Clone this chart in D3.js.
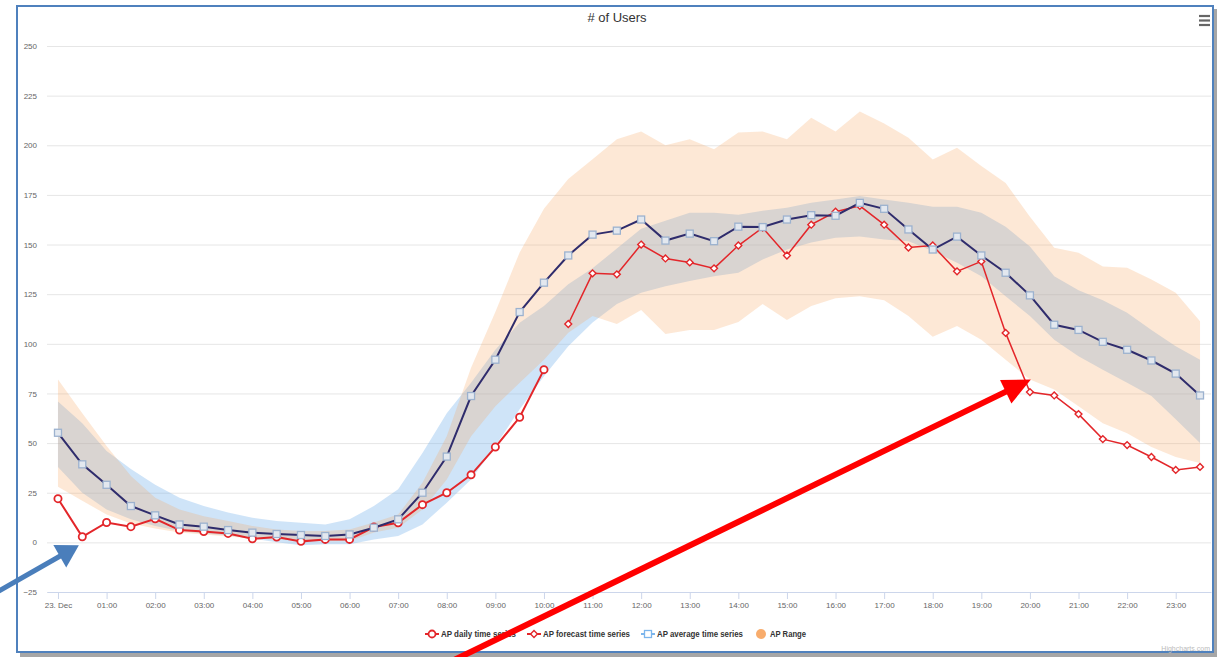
<!DOCTYPE html>
<html>
<head>
<meta charset="utf-8">
<title># of Users</title>
<script src="https://cdn.jsdelivr.net/npm/d3@7/dist/d3.min.js"></script>
<style>
    body { margin: 0; background: #fff; }
    #chart-area { width: 1217px; height: 657px; }
    svg text { font-family: "Liberation Sans", Arial, sans-serif; }
    .axis text { font-size: 8px; fill: #666; }
    .axis .domain { stroke: #ccd6eb; }
    .x-axis line { stroke: #ccd6eb; }
    .y-axis line { stroke: #e6e6e6; }
    .legend-item text { font-size: 9px; font-weight: bold; fill: #333; }
</style>
</head>
<body>
<div id="chart-area"></div>
<script>

// half-hour time stamps (hours after 23 Dec 00:00)
const hours = [0, 0.5, 1, 1.5, 2, 2.5, 3, 3.5, 4, 4.5, 5, 5.5, 6, 6.5, 7, 7.5, 8, 8.5, 9, 9.5,
    10, 10.5, 11, 11.5, 12, 12.5, 13, 13.5, 14, 14.5, 15, 15.5, 16, 16.5, 17, 17.5, 18, 18.5, 19, 19.5,
    20, 20.5, 21, 21.5, 22, 22.5, 23, 23.5];

// AP daily time series (00:00 - 10:00)
const dailyValues = [22, 2.8, 10, 7.9, 11.9, 6.2, 5.5, 4.5, 1.8, 2.7, 0.5, 1.5, 1.5, 7.7, 9.9, 19, 25, 34, 48, 63, 87];

// AP forecast time series (10:30 - 23:30)
const forecastValues = [110, 135.5, 135, 150, 143, 141, 138, 149.5, 158.5, 144.5, 160, 166.5, 169.5, 160, 148.5,
    149.5, 136.5, 141.5, 105.5, 75.7, 74, 64.6, 52, 49, 43, 36.5, 38];

// AP average time series
const averageValues = [55.2, 39.3, 29, 18.3, 13.6, 9, 7.9, 6.2, 4.9, 4.2, 3.7, 3.2, 4, 7.4, 11.6, 25, 43.2, 73.7,
    92, 116, 130.8, 144.5, 155, 157, 162.6, 152, 155.5, 151.7, 159, 158.8, 162.6, 164.8, 164.5, 171, 168, 157.6,
    147.5, 154, 144.5, 135.8, 124.4, 109.6, 107, 101, 97, 91.6, 85, 74];

// band around the average (light blue)
const averageLow = [38, 25, 16.5, 11.6, 8.2, 5.7, 4.5, 3.5, 2, 0, -1.5, -1, -1, 1.5, 3.2, 9, 20, 31.7, 48.5, 67,
    83.7, 98.8, 110.7, 120, 125.7, 129, 131.6, 134, 135.8, 142.5, 147.5, 151, 153.4, 154, 152.6, 151.7, 146.7,
    140.8, 134, 124, 114, 102, 93.8, 87, 80.4, 73.7, 62, 50];
const averageHigh = [71, 60, 46, 37, 29, 22.5, 18.3, 15, 12.4, 10.7, 9.9, 9, 11.6, 18.3, 26.7, 45, 65, 80.4, 97,
    110.6, 119, 130, 138, 148, 158, 162, 166, 166, 165, 167, 168.5, 171, 172.7, 174.4, 172.7, 171, 169, 169, 166,
    159, 149, 134, 127, 122, 115.6, 107, 98.8, 92];

// AP Range (orange)
const rangeLow = [28, 21, 14, 9.5, 7, 5, 4, 3, 2, 1.5, 0.7, 0.5, 0.7, 5, 7.4, 16.6, 31.7, 53.5, 68.6, 80.4, 92,
    105.6, 114, 110, 117, 105, 107, 107, 111, 120, 112, 119, 123, 124, 122, 114, 103.6, 109, 102, 92, 82, 77,
    68.6, 60, 55, 48, 43, 40];
const rangeHigh = [82, 65, 48.5, 33.4, 22.5, 16.6, 13.2, 10.7, 8.2, 6.5, 5.7, 5.7, 6.5, 10, 14, 30, 53.5, 88, 116,
    146, 168, 183, 193, 203, 207, 200, 203, 198, 206.4, 207, 203, 213.8, 207, 217, 211, 203.8, 192.8, 198.7,
    189.5, 181, 164, 148.4, 145.9, 139, 138.3, 132.4, 125.7, 111.4];

const yTicks = [-25, 0, 25, 50, 75, 100, 125, 150, 175, 200, 225, 250];
const xTickHours = [0, 1, 2, 3, 4, 5, 6, 7, 8, 9, 10, 11, 12, 13, 14, 15, 16, 17, 18, 19, 20, 21, 22, 23];
const xTickLabels = ['23. Dec', '01:00', '02:00', '03:00', '04:00', '05:00', '06:00', '07:00', '08:00', '09:00',
    '10:00', '11:00', '12:00', '13:00', '14:00', '15:00', '16:00', '17:00', '18:00', '19:00', '20:00', '21:00',
    '22:00', '23:00'];

const legendNames = ['AP daily time series', 'AP forecast time series', 'AP average time series', 'AP Range'];


class UsersChart {

    constructor(parentElement) {
        this.parentElement = parentElement;

        this.red = '#e3262a';
        this.navy = '#2f2c6c';
        this.blue = '#7cb5ec';
        this.orange = '#f7a35c';

        this.initVis();
    }

    initVis() {
        let vis = this;

        vis.width = 1217;
        vis.height = 657;
        vis.plot = {left: 47, right: 1211, top: 46, bottom: 592};

        vis.svg = d3.select("#" + vis.parentElement).append("svg")
            .attr("width", vis.width)
            .attr("height", vis.height);

        // frame with a little shadow
        vis.svg.append("rect")
            .attr("x", 20).attr("y", 9)
            .attr("width", 1197).attr("height", 648)
            .attr("fill", "#a6a6a6");
        vis.svg.append("rect")
            .attr("x", 17).attr("y", 6)
            .attr("width", 1196).attr("height", 646)
            .attr("fill", "#fff");

        vis.x = d3.scaleLinear()
            .domain([-0.226, 23.726])
            .range([vis.plot.left, vis.plot.right]);

        vis.y = d3.scaleLinear()
            .domain([-25, 250])
            .range([vis.plot.bottom, vis.plot.top]);

        // grid + y labels
        vis.svg.append("g")
            .attr("class", "axis y-axis")
            .attr("transform", `translate(${vis.plot.left},0)`)
            .call(d3.axisLeft(vis.y)
                .tickValues(yTicks)
                .tickSize(-(vis.plot.right - vis.plot.left))
                .tickPadding(10))
            .call(g => g.select(".domain").remove());

        // x axis
        vis.svg.append("g")
            .attr("class", "axis x-axis")
            .attr("transform", `translate(0,${vis.plot.bottom})`)
            .call(d3.axisBottom(vis.x)
                .tickValues(xTickHours)
                .tickFormat((d, i) => xTickLabels[i])
                .tickSize(7)
                .tickSizeOuter(0)
                .tickPadding(3));

        vis.title = vis.svg.append("text")
            .attr("x", 617).attr("y", 22)
            .attr("text-anchor", "middle")
            .style("font-size", "13px")
            .style("fill", "#333")
            .text("# of Users");

        // context menu icon
        [16, 20.5, 25].forEach(yy => {
            vis.svg.append("line")
                .attr("x1", 1199).attr("x2", 1210)
                .attr("y1", yy).attr("y2", yy)
                .attr("stroke", "#666")
                .attr("stroke-width", 2.2);
        });

        vis.svg.append("text")
            .attr("x", 1210).attr("y", 651)
            .attr("text-anchor", "end")
            .style("font-size", "7px")
            .style("fill", "#bbb")
            .text("Highcharts.com");

        vis.chartLayer = vis.svg.append("g");
        vis.legendLayer = vis.svg.append("g");
        vis.arrowLayer = vis.svg.append("g");

        vis.wrangleData();
    }

    wrangleData() {
        let vis = this;

        vis.averageBand = hours.map((h, i) => ({hour: h, low: averageLow[i], high: averageHigh[i]}));
        vis.rangeBand = hours.map((h, i) => ({hour: h, low: rangeLow[i], high: rangeHigh[i]}));
        vis.averageData = hours.map((h, i) => ({hour: h, value: averageValues[i]}));
        vis.dailyData = dailyValues.map((v, i) => ({hour: hours[i], value: v}));
        vis.forecastData = forecastValues.map((v, i) => ({hour: hours[i + dailyValues.length], value: v}));

        vis.updateVis();
    }

    updateVis() {
        let vis = this;

        let area = d3.area()
            .x(d => vis.x(d.hour))
            .y0(d => vis.y(d.low))
            .y1(d => vis.y(d.high));

        let line = d3.line()
            .x(d => vis.x(d.hour))
            .y(d => vis.y(d.value));

        // bands: blue first, orange range on top -> grey where they overlap
        vis.chartLayer.append("path")
            .datum(vis.averageBand)
            .attr("d", area)
            .attr("fill", vis.blue)
            .attr("fill-opacity", 0.37);

        vis.chartLayer.append("path")
            .datum(vis.rangeBand)
            .attr("d", area)
            .attr("fill", vis.orange)
            .attr("fill-opacity", 0.25);

        // daily
        vis.chartLayer.append("path")
            .datum(vis.dailyData)
            .attr("d", line)
            .attr("fill", "none")
            .attr("stroke", vis.red)
            .attr("stroke-width", 2);

        vis.chartLayer.selectAll(".daily-dot")
            .data(vis.dailyData)
            .enter().append("circle")
            .attr("class", "daily-dot")
            .attr("cx", d => vis.x(d.hour))
            .attr("cy", d => vis.y(d.value))
            .attr("r", 3.6)
            .attr("fill", "#fff")
            .attr("stroke", vis.red)
            .attr("stroke-width", 1.8);

        // forecast
        vis.chartLayer.append("path")
            .datum(vis.forecastData)
            .attr("d", line)
            .attr("fill", "none")
            .attr("stroke", vis.red)
            .attr("stroke-width", 1.5);

        vis.chartLayer.selectAll(".forecast-dot")
            .data(vis.forecastData)
            .enter().append("path")
            .attr("class", "forecast-dot")
            .attr("transform", d => `translate(${vis.x(d.hour)},${vis.y(d.value)})`)
            .attr("d", d3.symbol(d3.symbolDiamond2, 30))
            .attr("fill", "#fff")
            .attr("stroke", vis.red)
            .attr("stroke-width", 1.4);

        // average
        vis.chartLayer.append("path")
            .datum(vis.averageData)
            .attr("d", line)
            .attr("fill", "none")
            .attr("stroke", vis.navy)
            .attr("stroke-width", 2);

        vis.chartLayer.selectAll(".avg-dot")
            .data(vis.averageData)
            .enter().append("rect")
            .attr("class", "avg-dot")
            .attr("x", d => vis.x(d.hour) - 3.5)
            .attr("y", d => vis.y(d.value) - 3.5)
            .attr("width", 7).attr("height", 7)
            .attr("fill", "#e3e8ef")
            .attr("stroke", "#9cb2cf")
            .attr("stroke-width", 1.3);

        vis.drawLegend();
        vis.drawArrows();
    }

    drawLegend() {
        let vis = this;

        let textWidths = [75, 87, 86, 36];
        let symbolSpace = 17, gap = 10;
        let total = d3.sum(textWidths) + symbolSpace * textWidths.length + gap * (textWidths.length - 1);
        let cursor = 615 - total / 2;
        let cy = 634;

        legendNames.forEach((name, i) => {
            let g = vis.legendLayer.append("g")
                .attr("class", "legend-item")
                .attr("transform", `translate(${cursor},0)`);

            let cx = 8;
            if (i < 3) {
                g.append("line")
                    .attr("x1", 1).attr("x2", 15)
                    .attr("y1", cy).attr("y2", cy)
                    .attr("stroke", i === 2 ? vis.blue : vis.red)
                    .attr("stroke-width", 2);
            }
            if (i === 0) {
                g.append("circle").attr("cx", cx).attr("cy", cy).attr("r", 3.5)
                    .attr("fill", "#fff").attr("stroke", vis.red).attr("stroke-width", 1.8);
            } else if (i === 1) {
                g.append("path")
                    .attr("transform", `translate(${cx},${cy})`)
                    .attr("d", d3.symbol(d3.symbolDiamond2, 30))
                    .attr("fill", "#fff").attr("stroke", vis.red).attr("stroke-width", 1.4);
            } else if (i === 2) {
                g.append("rect").attr("x", cx - 3.5).attr("y", cy - 3.5)
                    .attr("width", 7).attr("height", 7)
                    .attr("fill", "#fff").attr("stroke", vis.blue).attr("stroke-width", 1.3);
            } else {
                g.append("circle").attr("cx", cx).attr("cy", cy).attr("r", 5)
                    .attr("fill", vis.orange).attr("fill-opacity", 0.9);
            }

            g.append("text")
                .attr("x", symbolSpace)
                .attr("y", cy + 3.3)
                .attr("textLength", textWidths[i])
                .attr("lengthAdjust", "spacingAndGlyphs")
                .text(name);

            cursor += symbolSpace + textWidths[i] + gap;
        });
    }

    drawArrows() {
        let vis = this;

        // annotation arrows: tip in data space, tail as pixel offset from tip
        let arrows = [
            {hour: 0.43, value: -1.5, dx: -84, dy: 48, color: '#4a7ebb', width: 5, headLen: 22, headHalf: 13},
            {hour: 20.02, value: 82, dx: -580, dy: 282, color: '#ff0000', width: 6, headLen: 28, headHalf: 13}
        ];

        arrows.forEach(a => {
            let tx = vis.x(a.hour), ty = vis.y(a.value);
            let len = Math.hypot(a.dx, a.dy);
            let ux = -a.dx / len, uy = -a.dy / len;
            let bx = tx - ux * a.headLen, by = ty - uy * a.headLen;

            vis.arrowLayer.append("line")
                .attr("x1", tx + a.dx).attr("y1", ty + a.dy)
                .attr("x2", bx + ux * 2).attr("y2", by + uy * 2)
                .attr("stroke", a.color)
                .attr("stroke-width", a.width);

            vis.arrowLayer.append("polygon")
                .attr("points", [
                    [tx, ty],
                    [bx - uy * a.headHalf, by + ux * a.headHalf],
                    [bx + uy * a.headHalf, by - ux * a.headHalf]
                ].map(p => p.join(",")).join(" "))
                .attr("fill", a.color);
        });

        // frame border on top of everything but the arrows
        vis.svg.insert("rect", "g.axis")
            .attr("x", 17).attr("y", 6)
            .attr("width", 1196).attr("height", 646)
            .attr("fill", "none")
            .attr("stroke", "#4f81bd")
            .attr("stroke-width", 2);
    }
}

new UsersChart("chart-area");

</script>
</body>
</html>
